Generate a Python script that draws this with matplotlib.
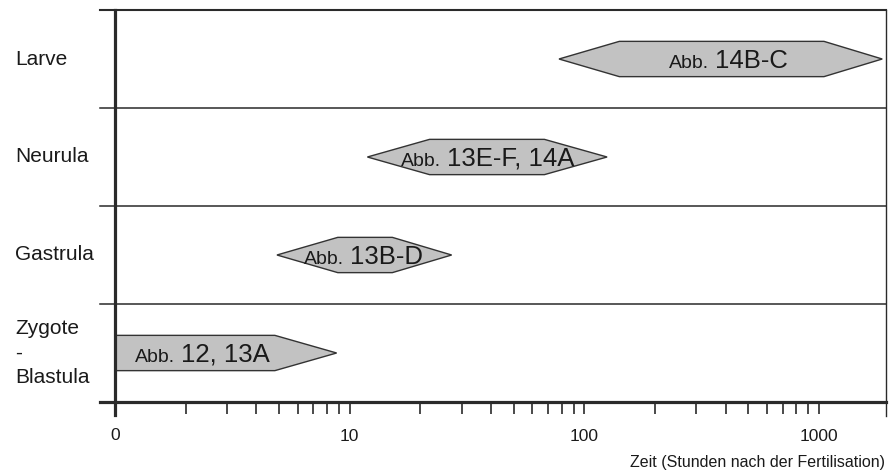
import matplotlib
matplotlib.use("Agg")
import matplotlib.pyplot as plt
import matplotlib.transforms as mtransforms
from matplotlib.patches import Polygon
from matplotlib.ticker import FixedLocator, NullFormatter

plt.rcParams['font.family'] = ['Liberation Sans', 'DejaVu Sans']

# ---- data ----
stages = ["Zygote\n-\nBlastula", "Gastrula", "Neurula", "Larve"]
# hours after fertilisation: left tip, plateau start, plateau end, right tip
tip_start = [1.0, 4.9, 11.9, 78]
plateau_start = [1.0, 8.9, 21.9, 141]
plateau_end = [4.8, 15.2, 67.6, 1050]
tip_end = [8.8, 27.2, 125, 1860]
label_prefix = ["Abb.", "Abb.", "Abb.", "Abb."]
label_main = ["12, 13A", "13B-D", "13E-F, 14A", "14B-C"]
label_center = [2.35, 11.4, 38.7, 412]
major_ticks = [1, 10, 100, 1000]
major_labels = ["0", "10", "100", "1000"]
minor_ticks = [v * d for d in (1, 10, 100) for v in range(2, 10)]
xlabel = "Zeit (Stunden nach der Fertilisation)"
xmin, xmax = 1, 1930

W, H = 891, 475
fig = plt.figure(figsize=(W / 100, H / 100), dpi=100)
L, R, T, B = 115, 886, 10, 402
ax = fig.add_axes([L / W, (H - B) / H, (R - L) / W, (B - T) / H])
ax.set_xscale('log')
ax.set_xlim(xmin, xmax)
ax.set_ylim(0, len(stages))

for s in ['left', 'top', 'bottom', 'right']:
    ax.spines[s].set_visible(False)

line_col = '#2a2a2a'
ext_left = -(L - 100) / (R - L)
# grid lines + top line
for i in range(1, len(stages)):
    ax.axhline(i, xmin=ext_left, xmax=1, color=line_col, lw=1.1, clip_on=False, zorder=1)
ax.axhline(len(stages), xmin=ext_left, xmax=1, color=line_col, lw=1.5, clip_on=False, zorder=1)
# x-axis line (thick)
ax.axhline(0, xmin=ext_left, xmax=1, color=line_col, lw=2.3, clip_on=False, zorder=5)
# left axis line (thick, extends below)
ax.axvline(xmin, ymin=-13 / (B - T), ymax=1, color=line_col, lw=2.3, clip_on=False, zorder=5)
# right thin line
ax.axvline(xmax, ymin=-14 / (B - T), ymax=1, color=line_col, lw=1.0, clip_on=False, zorder=5)

# ticks
ax.yaxis.set_visible(False)
ax.xaxis.set_major_locator(FixedLocator(major_ticks[1:]))
ax.set_xticklabels(major_labels[1:])
ax.xaxis.set_minor_locator(FixedLocator(minor_ticks))
ax.xaxis.set_minor_formatter(NullFormatter())
ax.tick_params(axis='x', which='both', direction='out', length=8.5, width=1.2,
               color=line_col, pad=11, labelsize=12.5, labelcolor='#1a1a1a')
# label "0" at x=1
zero_tr = mtransforms.offset_copy(
    mtransforms.blended_transform_factory(ax.transData, ax.transAxes), fig,
    x=0, y=-(437 - 402 - 9), units='dots')
ax.text(major_ticks[0], 0, major_labels[0], transform=zero_tr,
        ha='center', va='top', fontsize=12.5, color='#1a1a1a')

# hexagons
hh = 0.18
for i in range(len(stages)):
    yc = i + 0.5
    pts = [(tip_start[i], yc), (plateau_start[i], yc + hh), (plateau_end[i], yc + hh),
           (tip_end[i], yc), (plateau_end[i], yc - hh), (plateau_start[i], yc - hh)]
    if tip_start[i] == plateau_start[i]:
        pts = [(plateau_start[i], yc + hh), (plateau_end[i], yc + hh), (tip_end[i], yc),
               (plateau_end[i], yc - hh), (plateau_start[i], yc - hh)]
    ax.add_patch(Polygon(pts, closed=True, facecolor='#c2c2c2', edgecolor='#333333',
                         lw=1.0, zorder=3, clip_on=False))

# labels inside hexagons (two sizes)
fig.canvas.draw()
renderer = fig.canvas.get_renderer()
gap = 6
for i in range(len(stages)):
    yc = i + 0.5
    t1 = ax.text(label_center[i], yc, label_prefix[i], fontsize=14, ha='left', va='baseline',
                 color='#1a1a1a', zorder=6)
    t2 = ax.text(label_center[i], yc, label_main[i], fontsize=18.5, ha='left', va='baseline',
                 color='#1a1a1a', zorder=6)
    w1 = t1.get_window_extent(renderer).width
    w2 = t2.get_window_extent(renderer).width
    tot = w1 + gap + w2
    t1.set_transform(mtransforms.offset_copy(ax.transData, fig, x=-tot / 2, y=-8.5, units='dots'))
    t2.set_transform(mtransforms.offset_copy(ax.transData, fig, x=-tot / 2 + w1 + gap, y=-8.5, units='dots'))

# stage labels on the left
btr = mtransforms.blended_transform_factory(fig.transFigure, ax.transData)
for i, s in enumerate(stages):
    fig.text(15 / W, i + 0.5, s, transform=btr, ha='left', va='center', fontsize=15,
             color='#1a1a1a', linespacing=1.38, multialignment='left')

fig.text(885 / W, (H - 463) / H, xlabel, ha='right', va='center', fontsize=11.5, color='#1a1a1a')

fig.savefig("out.png", dpi=100)
